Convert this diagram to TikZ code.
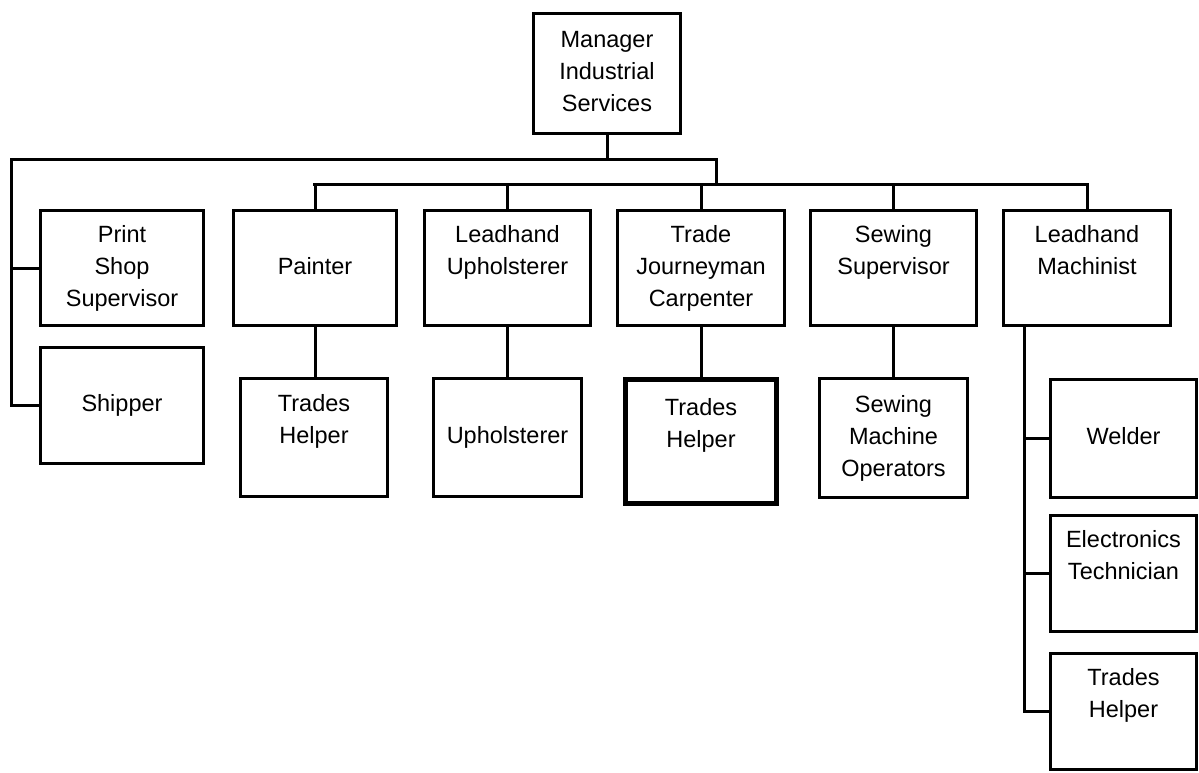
\documentclass[tikz,border=0pt]{standalone}
\usepackage{fontspec}
\setmainfont{Liberation Sans}
\begin{document}
\begin{tikzpicture}[x=1pt,y=-1pt,
  box/.style={draw,line width=3pt,rectangle,inner sep=0pt,align=center,
    font=\fontsize{23.5}{32}\selectfont},
  sbox/.style={box,minimum width=163pt,minimum height=115pt},
  cbox/.style={box,minimum width=148pt,minimum height=118pt},
  rbox/.style={box,minimum width=146pt,minimum height=116pt},
  heavybox/.style={box,line width=5pt,minimum width=151pt,minimum height=124pt},
  link/.style={line width=3pt,line cap=rect}]
\useasboundingbox (0,0) rectangle (1199,773);

% top
\node[box,minimum width=147pt,minimum height=120pt] (mgr) at (607,73.5)
  {\strut Manager\\\strut Industrial\\\strut Services};

% first row
\node[sbox] (print) at (122,268) {\strut Print\\\strut Shop\\\strut Supervisor};
\node[sbox,minimum height=116pt] (shipper) at (122,405.5) {\strut Shipper};
\node[sbox] (painter) at (315,268) {\strut\\\strut Painter\\\strut};
\node[sbox,minimum width=166pt] (lupholst) at (507.5,268) {\strut Leadhand\\\strut Upholsterer\\\strut};
\node[sbox,minimum width=167pt] (carpenter) at (701,268) {\strut Trade\\\strut Journeyman\\\strut Carpenter};
\node[sbox,minimum width=166pt] (sewsup) at (893.5,268) {\strut Sewing\\\strut Supervisor\\\strut};
\node[sbox,minimum width=167pt] (machinist) at (1087,268) {\strut Leadhand\\\strut Machinist\\\strut};

% second row
\node[cbox,minimum width=147pt] (th1) at (314,437.5) {\strut Trades\\\strut Helper\\\strut};
\node[cbox,minimum width=148pt] (upholsterer) at (507.5,437.5) {\strut Upholsterer};
\node[heavybox] (th2) at (701,441.5) {\strut Trades\\\strut Helper\\\strut};
\node[cbox,minimum width=148pt,minimum height=119pt] (sewop) at (893.5,438) {\strut Sewing\\\strut Machine\\\strut Operators};

% machinist column
\node[rbox,minimum height=118pt] (welder) at (1123.5,438.5) {\strut Welder};
\node[rbox] (electronics) at (1123.5,573.5) {\strut Electronics\\\strut Technician\\\strut};
\node[rbox] (th3) at (1123.5,711.5) {\strut Trades\\\strut Helper\\\strut};

% bus coordinates
\coordinate (busL) at (11,159);
\coordinate (busR) at (716,159);
\coordinate (bus2L) at (314,184);
\coordinate (bus2R) at (1087,184);
\coordinate (mcol) at (1024,327);

% connectors
\draw[link] (mgr.south) -- (mgr.south |- busL);
\draw[link] (busL) -- (busR) -- (busR |- bus2L);
\draw[link] (bus2L) -- (bus2R);
\foreach \n in {painter,lupholst,carpenter,sewsup,machinist}
  \draw[link] (\n.north) -- (\n.north |- bus2L);
\draw[link] (busL) |- (shipper.west);
\draw[link] (print.west) -- (print.west -| busL);

\draw[link] (painter.south) -- (painter.south |- th1.north);
\draw[link] (lupholst.south) -- (upholsterer.north);
\draw[link] (carpenter.south) -- (th2.north);
\draw[link] (sewsup.south) -- (sewop.north);

\draw[link] (mcol) |- (th3.west);
\draw[link] (welder.west) -- (welder.west -| mcol);
\draw[link] (electronics.west) -- (electronics.west -| mcol);
\end{tikzpicture}
\end{document}
